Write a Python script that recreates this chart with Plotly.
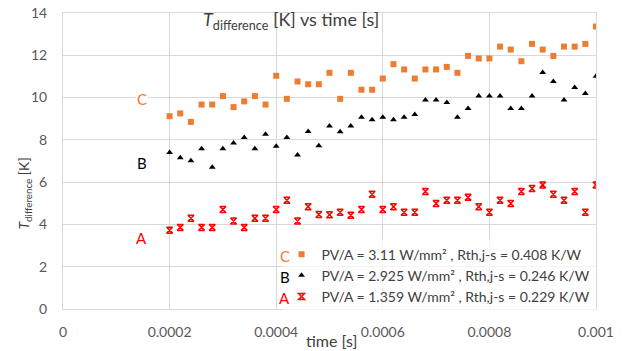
import plotly.graph_objects as go

# time axis: 0.0002 .. 0.001 s in steps of 0.00002 (41 samples)
time_s = [round(0.0002 + i * 0.00002, 6) for i in range(41)]

temp_c = [9.12, 9.25, 8.85, 9.67, 9.67, 10.07, 9.55, 9.82, 10.07, 9.67,
          11.03, 9.94, 10.76, 10.63, 10.63, 11.17, 9.94, 11.17, 10.37, 10.37,
          10.90, 11.58, 11.33, 10.90, 11.33, 11.33, 11.45, 11.17, 11.97, 11.85,
          11.85, 12.41, 12.27, 11.72, 12.54, 12.27, 11.97, 12.41, 12.41, 12.54,
          13.36]

temp_b = [7.40, 7.15, 7.01, 7.58, 6.71, 7.58, 7.85, 8.11, 7.58, 8.27,
          7.70, 8.11, 7.28, 8.40, 7.72, 8.66, 8.38, 8.66, 9.07, 8.95,
          9.07, 8.95, 9.07, 9.20, 9.89, 9.89, 9.77, 9.07, 9.48, 10.07,
          10.07, 10.07, 9.48, 9.48, 10.07, 11.18, 10.76, 9.89, 10.48, 10.19,
          11.01]

temp_a = [3.73, 3.86, 4.29, 3.86, 3.86, 4.71, 4.16, 3.86, 4.29, 4.29,
          4.71, 5.14, 4.16, 4.84, 4.47, 4.46, 4.58, 4.44, 4.71, 5.43,
          4.71, 4.84, 4.58, 4.58, 5.56, 4.99, 5.14, 5.14, 5.28, 4.84,
          4.58, 5.14, 4.99, 5.56, 5.70, 5.87, 5.43, 5.14, 5.56, 4.58,
          5.87]

names = ["PV/A = 3.11 W/mm² , Rth,j-s = 0.408 K/W",
         "PV/A = 2.925 W/mm² , Rth,j-s = 0.246 K/W",
         "PV/A = 1.359 W/mm² , Rth,j-s = 0.229 K/W"]
letters = ["C", "B", "A"]
colors = ["#ED7D31", "#000000", "#FF0000"]

x_ticks = [0, 0.0002, 0.0004, 0.0006, 0.0008, 0.001]
x_ticktext = ["0", "0.0002", "0.0004", "0.0006", "0.0008", "0.001"]
y_ticks = [0, 2, 4, 6, 8, 10, 12, 14]

FONT = "Lato, 'Open Sans', sans-serif"
GRID = "#d9d9d9"
TXT = "#595959"

fig = go.Figure()
fig.add_trace(go.Scatter(x=time_s, y=temp_c, mode="markers", name=names[0],
                         marker=dict(symbol="square", size=6, color=colors[0])))
fig.add_trace(go.Scatter(x=time_s, y=temp_b, mode="markers", name=names[1],
                         marker=dict(symbol="triangle-up", size=6, color=colors[1])))
fig.add_trace(go.Scatter(x=time_s, y=temp_a, mode="markers", name=names[2],
                         marker=dict(symbol="hourglass-open", size=6, color=colors[2],
                                     line=dict(width=1.5, color=colors[2]))))

# series letters inside plot
letter_y = [9.92, 6.9, 3.36]
for L, c, yy in zip(letters, colors, letter_y):
    fig.add_annotation(x=0.000148, y=yy, xref="x", yref="y", text=L, showarrow=False,
                       xanchor="center", yanchor="middle",
                       font=dict(size=15, color=c, family=FONT), bgcolor="white")

# legend letters
leg_y = [0.179, 0.108, 0.037]
for L, c, yy in zip(letters, colors, leg_y):
    fig.add_annotation(x=0.4165, y=yy, xref="paper", yref="paper", text=L, showarrow=False,
                       xanchor="center", yanchor="middle",
                       font=dict(size=15, color=c, family=FONT))

# title
fig.add_annotation(x=0.428, y=0.975, xref="paper", yref="paper",
                   xanchor="center", yanchor="middle",
                   text="<i>T</i><sub>difference</sub> [K] vs time [s]", showarrow=False,
                   font=dict(size=18, color="#404040", family=FONT))
# axis titles
fig.add_annotation(x=-0.0713, y=0.39, xref="paper", yref="paper", textangle=-90,
                   xanchor="center", yanchor="middle",
                   text="<i>T</i><sub>difference</sub> [K]", showarrow=False,
                   font=dict(size=14, color="#404040", family=FONT))
fig.add_annotation(x=0.503, y=-0.108, xref="paper", yref="paper",
                   xanchor="center", yanchor="middle",
                   text="time [s]", showarrow=False,
                   font=dict(size=16, color="#404040", family=FONT))

fig.update_layout(
    width=625, height=351,
    margin=dict(l=63, r=29, t=13, b=42),
    paper_bgcolor="white", plot_bgcolor="white",
    font=dict(family=FONT, size=13, color=TXT),
    showlegend=True,
    legend=dict(x=0.41, y=-0.012, xanchor="left", yanchor="bottom",
                bgcolor="rgba(255,255,255,0.7)", borderwidth=0,
                font=dict(size=14, color="#404040", family=FONT),
                tracegroupgap=0, itemwidth=30),
    xaxis=dict(range=[0, 0.001], tickvals=x_ticks, ticktext=x_ticktext,
               showgrid=True, gridcolor=GRID, gridwidth=1, automargin=False,
               showline=True, linecolor=GRID, mirror=True, zeroline=False,
               ticks="", ticklabelstandoff=10,
               tickfont=dict(size=14, color=TXT)),
    yaxis=dict(range=[0, 14], tickvals=y_ticks, automargin=False,
               showgrid=True, gridcolor=GRID, gridwidth=1,
               showline=True, linecolor=GRID, mirror=True, zeroline=False,
               ticks="", ticklabelstandoff=12,
               tickfont=dict(size=14, color=TXT)),
)

fig.write_html("out.html")
